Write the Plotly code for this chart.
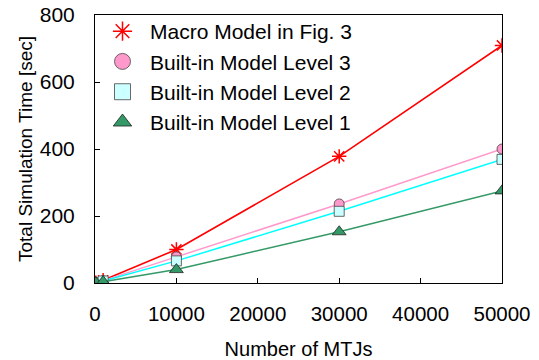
import plotly.graph_objects as go

mtjs = [100, 1000, 10000, 30000, 50000]
macro = [1, 8, 100, 378, 709]
level3 = [1, 7, 78, 236, 400]
level2 = [1, 6, 66, 214, 369]
level1 = [1, 4, 40, 153, 275]

x_ticks = [0, 10000, 20000, 30000, 40000, 50000]
y_ticks = [0, 200, 400, 600, 800]

FONT = "Liberation Sans, Arial, sans-serif"

series = [
    ("Macro Model in Fig. 3", macro, "#FF0000", dict(symbol="asterisk-open", color="#FF0000", line=dict(color="#FF0000", width=1.5)), 12, 1.6),
    ("Built-in Model Level 3", level3, "#FF99CC", dict(symbol="circle", color="#FF99CC", line=dict(color="#444444", width=0.8)), 10, 1.5),
    ("Built-in Model Level 2", level2, "#00FFFF", dict(symbol="square", color="#CCFFFF", line=dict(color="#444444", width=0.8)), 10, 1.5),
    ("Built-in Model Level 1", level1, "#339966", dict(symbol="triangle-up", color="#339966", line=dict(color="#222222", width=0.8)), 12, 1.5),
]

fig = go.Figure()
for name, vals, lc, mk, sz, lw in series:
    fig.add_trace(go.Scatter(
        x=mtjs, y=vals, name=name, mode="lines+markers", showlegend=False,
        line=dict(color=lc, width=lw), marker=dict(size=sz, **mk),
    ))
# legend entries (markers only, as in the reference)
for name, vals, lc, mk, sz, lw in series:
    fig.add_trace(go.Scatter(
        x=[None], y=[None], name=name, mode="markers", showlegend=True,
        marker=dict(size=16, **mk),
    ))

fig.update_layout(
    width=539, height=360,
    margin=dict(l=95, r=37, t=15, b=77, autoexpand=False),
    plot_bgcolor="white", paper_bgcolor="white",
    font=dict(family=FONT, size=20, color="black"),
    showlegend=True,
    legend=dict(x=0.0, y=1.015, xanchor="left", yanchor="top",
                bgcolor="rgba(0,0,0,0)", font=dict(size=21, family=FONT),
                tracegroupgap=0, itemwidth=45),
)
fig.update_xaxes(
    range=[0, 50000], tickvals=x_ticks, ticktext=[str(v) for v in x_ticks],
    showgrid=False, zeroline=False, showline=True, linecolor="black", linewidth=1,
    mirror=True, ticks="inside", ticklen=5, tickcolor="black", automargin=False,
    tickfont=dict(size=20.5), ticklabelstandoff=12,
    title=dict(text="Number of MTJs", font=dict(size=20), standoff=19),
)
fig.update_yaxes(
    range=[0, 800], tickvals=y_ticks, ticktext=[str(v) for v in y_ticks],
    showgrid=False, zeroline=False, showline=True, linecolor="black", linewidth=1,
    mirror=True, ticks="inside", ticklen=5, tickcolor="black", automargin=False,
    tickfont=dict(size=21), ticklabelstandoff=15,
    title=dict(text="Total Simulation Time [sec]", font=dict(size=19), standoff=2),
)

fig.write_html("out.html", config={"displayModeBar": False},
               post_script="document.body.style.margin='0px';document.body.style.padding='0px';")
